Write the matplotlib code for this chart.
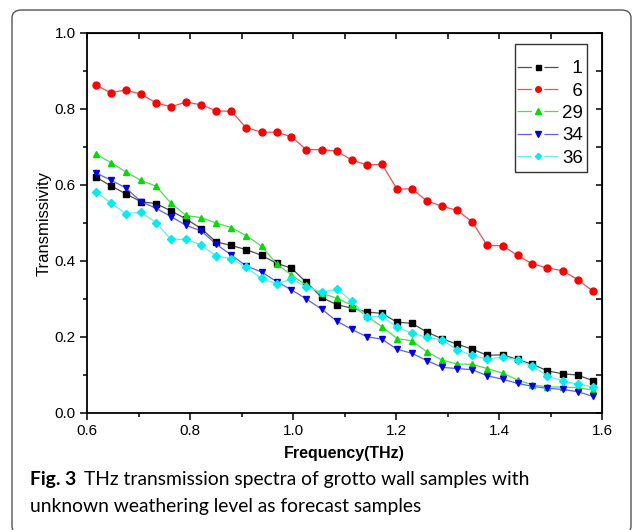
import matplotlib
matplotlib.use('Agg')
import matplotlib.pyplot as plt
from matplotlib.patches import FancyBboxPatch, Rectangle
from matplotlib.legend_handler import HandlerLine2D

# frequency points (THz)
freq = [0.617, 0.646, 0.675, 0.705, 0.734, 0.763, 0.792, 0.822, 0.851, 0.880,
        0.909, 0.939, 0.968, 0.997, 1.026, 1.056, 1.085, 1.114, 1.143, 1.173,
        1.202, 1.231, 1.260, 1.290, 1.319, 1.348, 1.377, 1.407, 1.436, 1.465,
        1.494, 1.524, 1.553, 1.582]

s1 = [0.621, 0.598, 0.577, 0.556, 0.551, 0.532, 0.511, 0.485, 0.450, 0.441,
      0.430, 0.415, 0.394, 0.381, 0.344, 0.304, 0.285, 0.276, 0.266, 0.262,
      0.239, 0.236, 0.213, 0.195, 0.181, 0.168, 0.152, 0.153, 0.141, 0.128,
      0.111, 0.103, 0.100, 0.085]
s6 = [0.863, 0.843, 0.850, 0.839, 0.816, 0.806, 0.818, 0.811, 0.795, 0.794,
      0.751, 0.739, 0.739, 0.727, 0.693, 0.693, 0.689, 0.666, 0.653, 0.654,
      0.589, 0.590, 0.558, 0.544, 0.533, 0.503, 0.441, 0.440, 0.415, 0.392,
      0.382, 0.374, 0.351, 0.321]
s29 = [0.682, 0.659, 0.635, 0.612, 0.597, 0.552, 0.520, 0.514, 0.500, 0.488,
       0.467, 0.439, 0.393, 0.363, 0.336, 0.315, 0.302, 0.284, 0.255, 0.227,
       0.196, 0.190, 0.161, 0.139, 0.129, 0.128, 0.117, 0.105, 0.087, 0.074,
       0.069, 0.068, 0.067, 0.060]
s34 = [0.632, 0.613, 0.593, 0.556, 0.539, 0.517, 0.494, 0.479, 0.444, 0.416,
       0.387, 0.371, 0.346, 0.324, 0.300, 0.273, 0.242, 0.220, 0.201, 0.194,
       0.168, 0.157, 0.138, 0.120, 0.117, 0.114, 0.098, 0.089, 0.078, 0.070,
       0.065, 0.062, 0.056, 0.044]
s36 = [0.582, 0.553, 0.525, 0.528, 0.501, 0.457, 0.457, 0.442, 0.413, 0.406,
       0.383, 0.354, 0.340, 0.352, 0.332, 0.318, 0.326, 0.295, 0.253, 0.254,
       0.226, 0.210, 0.199, 0.192, 0.166, 0.152, 0.142, 0.147, 0.140, 0.123,
       0.098, 0.084, 0.076, 0.069]

labels = ['\u20071', '\u20076', '29', '34', '36']
series = [s1, s6, s29, s34, s36]
markers = ['s', 'o', '^', 'v', 'D']
msizes = [4.5, 5, 5, 5, 4]
mcolors = ['black', 'red', '#00dd00', '#0000ee', '#00eeee']
lcolors = ['#505050', '#f05050', '#50dd50', '#6060f0', '#60eeee']

plt.rcParams['font.family'] = ['Liberation Sans', 'DejaVu Sans']

W, H = 635, 530
fig = plt.figure(figsize=(W / 100, H / 100), dpi=100)
ax = fig.add_axes([87 / W, 1 - 413 / H, (602 - 87) / W, (413 - 33) / H])

for k in range(len(series)):
    ax.plot(freq, series[k], color=lcolors[k], lw=0.9,
            marker=markers[k], ms=msizes[k], mfc=mcolors[k], mec=mcolors[k],
            label=labels[k])

ax.set_xlim(0.6, 1.6)
ax.set_ylim(0.0, 1.0)
ax.set_xticks([0.6, 0.8, 1.0, 1.2, 1.4, 1.6])
ax.set_xticks([0.7, 0.9, 1.1, 1.3, 1.5], minor=True)
ax.set_yticks([0.0, 0.2, 0.4, 0.6, 0.8, 1.0])
ax.set_yticks([0.1, 0.3, 0.5, 0.7, 0.9], minor=True)
ax.xaxis.set_major_formatter(matplotlib.ticker.FormatStrFormatter('%.1f'))
ax.yaxis.set_major_formatter(matplotlib.ticker.FormatStrFormatter('%.1f'))
ax.tick_params(which='major', direction='out', length=5, width=1.1, labelsize=11, pad=3)
ax.tick_params(which='minor', direction='out', length=3, width=1.1)
for sp in ax.spines.values():
    sp.set_linewidth(1.3)

# inward ticks on top and right
top = ax.secondary_xaxis('top')
top.set_xticks([0.6, 0.8, 1.0, 1.2, 1.4, 1.6])
top.set_xticks([0.7, 0.9, 1.1, 1.3, 1.5], minor=True)
top.tick_params(which='both', direction='in', length=4, width=1.1, labeltop=False)
right = ax.secondary_yaxis('right')
right.set_yticks([0.0, 0.2, 0.4, 0.6, 0.8, 1.0])
right.set_yticks([0.1, 0.3, 0.5, 0.7, 0.9], minor=True)
right.tick_params(which='both', direction='in', length=4, width=1.1, labelright=False)

ax.set_xlabel('Frequency(THz)', fontsize=11.5, fontweight='bold', labelpad=6)
ax.set_ylabel('Transmissivity', fontsize=12, labelpad=2)


# legend handles: line with a gap round the marker, as Origin draws it
# (dash lengths get multiplied by the line width, 0.9)
def gap_marker(handle, orig):
    handle.update_from(orig)
    handle.set_linestyle((0, (11.5, 10.0, 20.0, 10.0)))
    handle.set_markersize(orig.get_markersize() * 0.8)


leg = ax.legend(loc='upper left', bbox_to_anchor=(517 / W, 1 - 60 / H),
                bbox_transform=fig.transFigure, borderaxespad=0, borderpad=0,
                frameon=False, fontsize=13.5, numpoints=1, handlelength=2.2,
                handletextpad=0.2, labelspacing=0.28,
                handler_map={plt.Line2D: HandlerLine2D(update_func=gap_marker)})
fig.patches.append(Rectangle((515 / W, 1 - 172 / H), 72 / W, 128 / H,
                             transform=fig.transFigure, fill=False,
                             edgecolor='#333333', lw=1.0))

# caption
cap_font = ['Lato', 'DejaVu Sans']
t1 = fig.text(30 / W, 1 - 485 / H, 'Fig. 3', fontsize=13.9, fontweight='bold',
              family=cap_font, va='baseline', ha='left')
fig.canvas.draw()
bb = t1.get_window_extent()
fig.text((bb.x1 + 8) / W, 1 - 485 / H,
         'THz transmission spectra of grotto wall samples with',
         fontsize=13.9, family=cap_font, va='baseline', ha='left')
fig.text(30 / W, 1 - 512 / H, 'unknown weathering level as forecast samples',
         fontsize=13.9, family=cap_font, va='baseline', ha='left')

# rounded border around figure
box = FancyBboxPatch((12 / W, -4 / H), (631 - 12) / W, (H - 10 + 4) / H,
                     boxstyle='round,pad=0,rounding_size=0.015',
                     transform=fig.transFigure, fill=False,
                     edgecolor='#555555', lw=1.0)
fig.patches.append(box)

plt.savefig('out.png', dpi=100)
